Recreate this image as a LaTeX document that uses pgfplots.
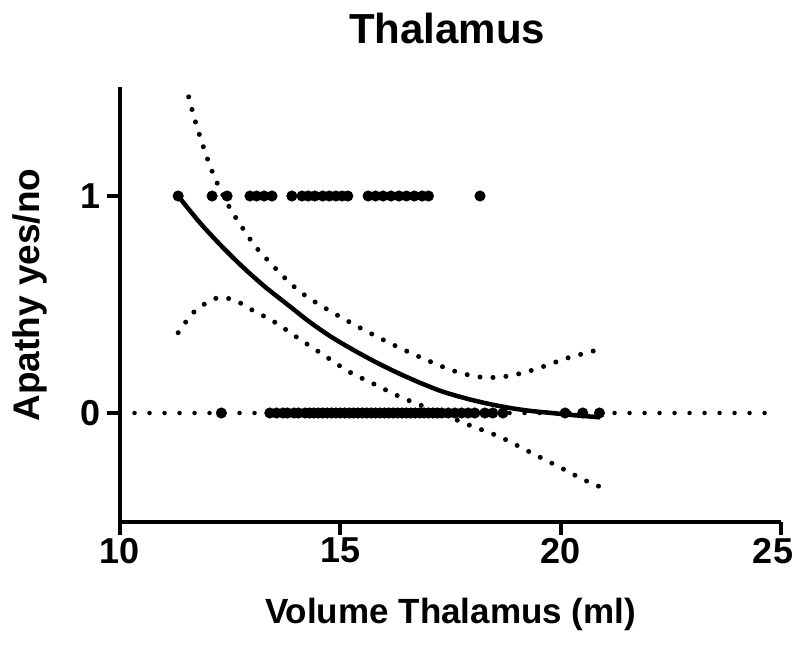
\documentclass[border=0pt]{standalone}
\usepackage{fontspec}
\setmainfont{Liberation Sans}
\usepackage{pgfplots}
\pgfplotsset{compat=1.18}
\begin{document}
\begin{tikzpicture}
\useasboundingbox (-120bp,-127.5bp) rectangle (675bp,521.5bp);
\begin{axis}[
 scale only axis, width=661bp, height=434bp,
 xmin=10, xmax=25, ymin=-0.5, ymax=1.5,
 axis x line*=bottom, axis y line*=left,
 axis line style={line width=4bp},
 xtick={10,15,20,25}, ytick={0,1},
 xticklabels={10,15,20,{25\hspace*{16bp}}},
 tick style={line width=4bp, black},
 major tick length=13bp,
 tick align=outside,
 ticklabel style={font=\fontsize{36bp}{36bp}\selectfont\bfseries},
 yticklabel style={xshift=-3bp},
 /pgf/number format/assume math mode=true,
 xlabel={Volume Thalamus (ml)}, ylabel={Apathy yes/no},
 xlabel style={at={(axis description cs:0.5,-0.214)},anchor=center,font=\fontsize{35bp}{35bp}\selectfont\bfseries},
 ylabel style={at={(axis description cs:-0.136,0.522)},anchor=center,font=\fontsize{37bp}{37bp}\selectfont\bfseries},
 title={Thalamus},
 title style={at={(axis description cs:0.495,1.123)},anchor=center,font=\fontsize{42bp}{42bp}\selectfont\bfseries},
 clip=true,
]
% zero reference line
\addplot[black, line width=4.5bp, line cap=round, dash pattern=on 0bp off 15bp] coordinates {(10.33,0) (24.9,0)};
% data y=1
\addplot[only marks, mark=*, mark size=5.3bp, black] coordinates {
(11.32,1) (12.09,1) (12.43,1) (12.95,1) (13.1,1) (13.27,1) (13.45,1) (13.9,1)
(14.13,1) (14.27,1) (14.42,1) (14.6,1) (14.75,1) (14.9,1) (15.04,1) (15.17,1)
(15.63,1) (15.8,1) (15.97,1) (16.15,1) (16.33,1) (16.5,1) (16.68,1) (16.86,1) (17.0,1) (18.17,1)};
% data y=0
\addplot[only marks, mark=*, mark size=5.3bp, black] coordinates {
(12.3,0) (13.4,0) (13.55,0) (13.7,0) (13.8,0) (13.95,0) (14.05,0) (14.2,0) (14.3,0)
(14.4,0) (14.5,0) (14.6,0) (14.7,0) (14.8,0) (14.9,0) (15.0,0) (15.1,0) (15.2,0)
(15.3,0) (15.4,0) (15.5,0) (15.6,0) (15.7,0) (15.8,0) (15.9,0) (16.0,0) (16.1,0)
(16.2,0) (16.3,0) (16.4,0) (16.5,0) (16.6,0) (16.7,0) (16.8,0) (16.9,0) (17.0,0)
(17.1,0) (17.2,0) (17.3,0) (17.45,0) (17.6,0) (17.75,0) (17.9,0) (18.05,0)
(18.28,0) (18.46,0) (18.69,0) (20.1,0) (20.5,0) (20.88,0)};
% fitted curve
\addplot[black, line width=4.5bp, smooth] coordinates {
(11.32,1.00) (11.8,0.88) (12.3,0.77) (12.8,0.67) (13.3,0.58) (13.8,0.50)
(14.3,0.42) (14.8,0.35) (15.3,0.29) (15.8,0.235) (16.3,0.185) (16.8,0.14)
(17.3,0.10) (17.8,0.07) (18.3,0.045) (18.8,0.025) (19.3,0.01) (19.8,0.0)
(20.3,-0.01) (20.9,-0.02)};
% upper CI
\addplot[black, line width=5bp, line cap=round, dash pattern=on 0bp off 13bp, smooth] coordinates {
(11.32,1.63) (11.51,1.493) (11.74,1.323) (12.02,1.151) (12.25,1.04) (12.52,0.935)
(12.84,0.835) (13.18,0.742) (14.08,0.56) (15.2,0.42) (16.35,0.30) (17.49,0.20)
(18.2,0.165) (18.8,0.17) (19.4,0.20) (20.1,0.25) (20.64,0.28) (20.9,0.295)};
% lower CI
\addplot[black, line width=5bp, line cap=round, dash pattern=on 0bp off 13bp, smooth] coordinates {
(11.32,0.37) (11.7,0.47) (12.2,0.53) (12.6,0.52) (12.95,0.48) (13.5,0.42)
(14.08,0.34) (14.6,0.27) (15.2,0.19) (15.8,0.13) (16.35,0.075) (16.9,0.03)
(17.5,-0.02) (17.85,-0.05) (18.62,-0.11) (19.3,-0.18) (19.98,-0.25) (20.26,-0.28)
(20.55,-0.31) (20.95,-0.345)};
\end{axis}
\end{tikzpicture}
\end{document}
